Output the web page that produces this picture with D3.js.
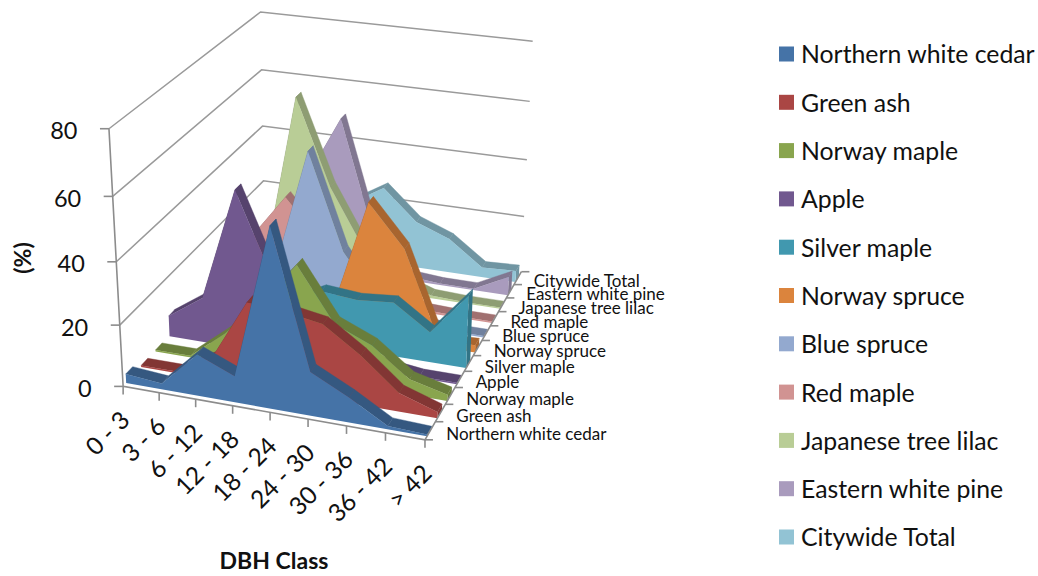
<!DOCTYPE html>
<html>
<head>
<meta charset="utf-8">
<script src="https://cdn.jsdelivr.net/npm/d3@7/dist/d3.min.js"></script>
<style>
  html, body { margin: 0; padding: 0; background: #fff; }
  svg { display: block; }
  text { font-family: Lato, "Open Sans", sans-serif; fill: #111; }
</style>
</head>
<body>
<svg id="chart" width="1038" height="576"></svg>
<script>
const dbhClasses = ["0 - 3","3 - 6","6 - 12","12 - 18","18 - 24","24 - 30","30 - 36","36 - 42","> 42"];
const speciesNames = ["Northern white cedar","Green ash","Norway maple","Apple","Silver maple","Norway spruce","Blue spruce","Red maple","Japanese tree lilac","Eastern white pine","Citywide Total"];
const speciesColors = ["#4573A7","#AA4644","#89A54E","#71588F","#4198AF","#DB843D","#93A9CF","#D19392","#B9CD96","#A99BBD","#92C3D4"];

const northernWhiteCedar = [3, 2, 13.5, 8.5, 57, 14, 8, 1, 0.5];
const greenAsh           = [0.5, 0.5, 7, 27, 26, 24, 16, 6, 2];
const norwayMaple        = [0.5, 0.5, 10, 22, 36, 19, 14, 5, 2];
const apple              = [7, 15, 52, 25, 13, 6, 2, 0.5, 0.5];
const silverMaple        = [1, 3, 6, 12, 18, 17, 18, 10, 24];
const norwaySpruce       = [0.5, 1, 2, 3, 7, 44.5, 31, 2, 2.5];
const blueSpruce         = [1, 3, 12, 54, 22, 7, 2, 0.5, 0.5];
const redMaple           = [5, 18, 33, 20, 8, 3, 1, 0.5, 0.5];
const japaneseTreeLilac  = [0.5, 3.5, 63, 34, 14, 5, 1, 0.5, 0.5];
const easternWhitePine   = [3, 10, 32, 53.5, 14.5, 1.5, 0.5, 0.5, 6.5];
const citywideTotal      = [3, 8, 14, 20, 27, 16.5, 12, 3.5, 4];
const seriesValues = [northernWhiteCedar, greenAsh, norwayMaple, apple, silverMaple, norwaySpruce,
                      blueSpruce, redMaple, japaneseTreeLilac, easternWhitePine, citywideTotal];
const valueTicks = [0, 20, 40, 60, 80];

// Perspective box: unit-cube corners (across, depth, height) and where they land on the page.
const boxCorners = [
  [0,0,0, 124,385], [1,0,0, 425,441], [0,1,0, 263,236], [1,1,0, 522,270],
  [0,0,1, 108,129], [0,1,1, 262,11],  [1,1,1, 532,42]
];

// Least-squares fit of a 3x4 projective camera to the corners above.
function fitCamera(points) {
  const rows = [], rhs = [];
  points.forEach(([u,w,z,x,y]) => {
    const px = x / 500, py = y / 500;
    rows.push([u,w,z,1, 0,0,0,0, -px*u,-px*w,-px*z]); rhs.push(px);
    rows.push([0,0,0,0, u,w,z,1, -py*u,-py*w,-py*z]); rhs.push(py);
  });
  const n = 11;
  const A = d3.range(n).map(i => d3.range(n + 1).map(j =>
    d3.sum(rows, (r, k) => r[i] * (j < n ? r[j] : rhs[k])) + (i === j ? 1e-9 : 0)));
  for (let c = 0; c < n; c++) {
    let p = c;
    for (let r = c + 1; r < n; r++) if (Math.abs(A[r][c]) > Math.abs(A[p][c])) p = r;
    [A[c], A[p]] = [A[p], A[c]];
    for (let r = 0; r < n; r++) {
      if (r === c) continue;
      const f = A[r][c] / A[c][c];
      for (let j = c; j <= n; j++) A[r][j] -= f * A[c][j];
    }
  }
  return d3.range(n).map(i => A[i][n] / A[i][i]);
}
const cam = fitCamera(boxCorners);
function project(u, w, z) {
  const d = cam[8]*u + cam[9]*w + cam[10]*z + 1;
  return [500 * (cam[0]*u + cam[1]*w + cam[2]*z + cam[3]) / d,
          500 * (cam[4]*u + cam[5]*w + cam[6]*z + cam[7]) / d];
}

const uScale = d3.scalePoint().domain(d3.range(dbhClasses.length)).range([0, 1]);
const wScale = d3.scaleLinear().domain([0, speciesNames.length]).range([0, 1]);
const zScale = d3.scaleLinear().domain([0, 80]).range([0, 1]);
const ribbonFront = 0.2, ribbonBack = 0.66;

const svg = d3.select("#chart");
const axisGray = "#8c8c8c";
const pathOf = pts => "M" + pts.map(p => p.map(v => v.toFixed(2)).join(",")).join("L") + "Z";
const lineOf = pts => "M" + pts.map(p => p.map(v => v.toFixed(2)).join(",")).join("L");

// Wall gridlines: across the left wall, then along the back wall.
const walls = svg.append("g").attr("fill", "none").attr("stroke", "#9a9a9a").attr("stroke-width", 1.5);
valueTicks.filter(v => v > 0).forEach(v => {
  const z = zScale(v);
  walls.append("path").attr("d", lineOf([project(0,0,z), project(0,1,z), project(1,1,z)]));
});

// Ribbons are painted from the back row to the front row.
const marks = svg.append("g");
d3.range(speciesNames.length).reverse().forEach(s => {
  const vals = seriesValues[s];
  const wf = wScale(s + ribbonFront), wb = wScale(s + ribbonBack);
  const base = speciesColors[s];
  const shade = d3.rgb(base).darker(0.75).formatHex();
  const row = marks.append("g");
  const top = vals.map((v, i) => [uScale(i), zScale(v)]);
  // right end cap
  const [ue, ze] = top[top.length - 1];
  row.append("path").attr("d", pathOf([project(ue,wf,0), project(ue,wb,0), project(ue,wb,ze), project(ue,wf,ze)]))
    .attr("fill", shade);
  // sloped top strips
  d3.pairs(top).forEach(([a, b]) => {
    row.append("path")
      .attr("d", pathOf([project(a[0],wf,a[1]), project(b[0],wf,b[1]), project(b[0],wb,b[1]), project(a[0],wb,a[1])]))
      .attr("fill", shade).attr("stroke", shade).attr("stroke-width", 0.4);
  });
  // front face
  const face = [project(top[0][0],wf,0), ...top.map(t => project(t[0],wf,t[1])), project(ue,wf,0)];
  row.append("path").attr("d", pathOf(face)).attr("fill", base);
});

// Floor axes and value axis.
const axes = svg.append("g").attr("fill", "none").attr("stroke", axisGray).attr("stroke-width", 1.6);
axes.append("path").attr("d", lineOf([project(0,0,zScale(80)), project(0,0,0), project(1,0,0), project(1,1,0)]));
valueTicks.forEach(v => {
  const [x, y] = project(0, 0, zScale(v));
  axes.append("path").attr("d", lineOf([[x - 9, y], [x, y]]));
  svg.append("text").attr("x", x - 31.5).attr("y", y + 2).attr("dy", "0.36em")
    .attr("text-anchor", "end").attr("font-size", 23.5).text(v);
});
dbhClasses.forEach((label, i) => {
  const [x, y] = project(uScale(i), 0, 0);
  axes.append("path").attr("d", lineOf([[x, y], [x, y + 8]]));
  svg.append("text").attr("transform", `translate(${x + 2},${y + 29}) rotate(-45)`)
    .attr("text-anchor", "end").attr("dy", "0.36em").attr("font-size", 24.5).text(label);
});
d3.range(speciesNames.length + 1).forEach(s => {
  const [x, y] = project(1, wScale(s), 0);
  axes.append("path").attr("d", lineOf([[x, y], [x + 8, y]]));
});
speciesNames.forEach((name, s) => {
  const [x, y] = project(1, wScale(s + 0.5), 0);
  svg.append("text").attr("x", x + 16).attr("y", y + 3).attr("dy", "0.36em")
    .attr("font-size", 17).text(name);
});

// Axis titles.
svg.append("text").attr("transform", "translate(23,258) rotate(-90)").attr("text-anchor", "middle")
  .attr("dy", "0.36em").attr("font-size", 23).attr("font-weight", 700).text("(%)");
svg.append("text").attr("x", 274).attr("y", 561).attr("text-anchor", "middle")
  .attr("dy", "0.36em").attr("font-size", 23).attr("font-weight", 700).text("DBH Class");

// Legend.
const legendY = d3.scalePoint().domain(speciesNames).range([54, 537]);
const legend = svg.append("g");
speciesNames.forEach((name, s) => {
  const y = legendY(name);
  legend.append("rect").attr("x", 779).attr("y", y - 7.5).attr("width", 15).attr("height", 15)
    .attr("fill", speciesColors[s]);
  legend.append("text").attr("x", 801).attr("y", y + 0.5).attr("dy", "0.36em").attr("font-size", 24.8).text(name);
});
</script>
</body>
</html>
